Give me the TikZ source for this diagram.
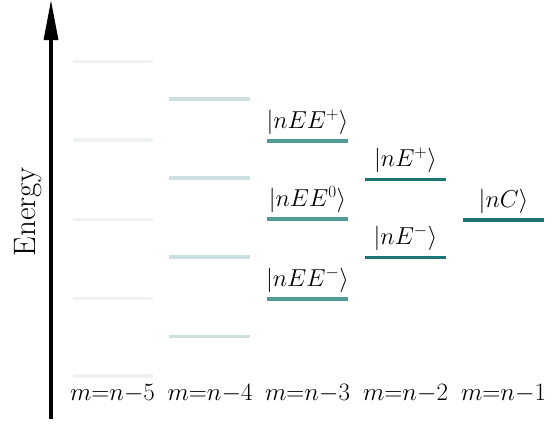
\RequirePackage{fix-cm}
\documentclass[tikz,border=0pt]{standalone}
\usetikzlibrary{arrows.meta}
\definecolor{lvA}{RGB}{238,242,242}
\definecolor{lvB}{RGB}{204,224,224}
\definecolor{lvC}{RGB}{82,154,152}
\definecolor{lvD}{RGB}{28,118,115}
\definecolor{lvE}{RGB}{30,115,110}
\begin{document}
\begin{tikzpicture}[x=1pt,y=-1pt,
  level/.style={line width=3.6pt},
  ket/.style={anchor=base,inner sep=0pt,font=\fontsize{24.5}{28}\selectfont},
  mlab/.style={anchor=base,inner sep=0pt,font=\fontsize{25}{30}\selectfont},
  axis/.style={line width=3.2pt,-{Triangle[length=40pt,width=14pt]}}]
\useasboundingbox (0,0) rectangle (557,426);
% axis
\coordinate (ax0) at (51,419);
\coordinate (ax1) at (51,0);
\draw[axis] (ax0) -- (ax1);
\node[rotate=90,anchor=base,inner sep=0pt,font=\fontsize{31}{36}\selectfont] (energy) at (35,212) {Energy};
% column 1: m=n-5
\foreach \y in {61.5,140,219.3,298.3,376}
  \draw[level,lvA] (73,\y) -- (153,\y);
% column 2: m=n-4
\foreach \y in {99,177.7,257,336.3}
  \draw[level,lvB] (169,\y) -- (250,\y);
% column 3: m=n-3
\foreach \y in {140.7,218.7,299}
  \draw[level,lvC] (267.3,\y) -- (347.7,\y);
\node[ket] (eep) at (307.5,128) {$|nEE^{+}\rangle$};
\node[ket] (ee0) at (307.5,206) {$|nEE^{0}\rangle$};
\node[ket] (eem) at (307.5,286.3) {$|nEE^{-}\rangle$};
% column 4: m=n-2
\foreach \y in {179.3,257.3}
  \draw[level,lvD] (365.3,\y) -- (445.7,\y);
\node[ket] (ep) at (405.5,166.8) {$|nE^{+}\rangle$};
\node[ket] (em) at (405.5,244.8) {$|nE^{-}\rangle$};
% column 5: m=n-1
\draw[level,lvE] (463.3,220) -- (543.7,220);
\node[ket] (nc) at (503.5,207.5) {$|nC\rangle$};
% bottom labels
\node[mlab] (m5) at (112.5,400) {$m{=}n{-}5$};
\node[mlab] (m4) at (210,400) {$m{=}n{-}4$};
\node[mlab] (m3) at (307.5,400) {$m{=}n{-}3$};
\node[mlab] (m2) at (405.5,400) {$m{=}n{-}2$};
\node[mlab] (m1) at (503.5,400) {$m{=}n{-}1$};
\end{tikzpicture}
\end{document}
